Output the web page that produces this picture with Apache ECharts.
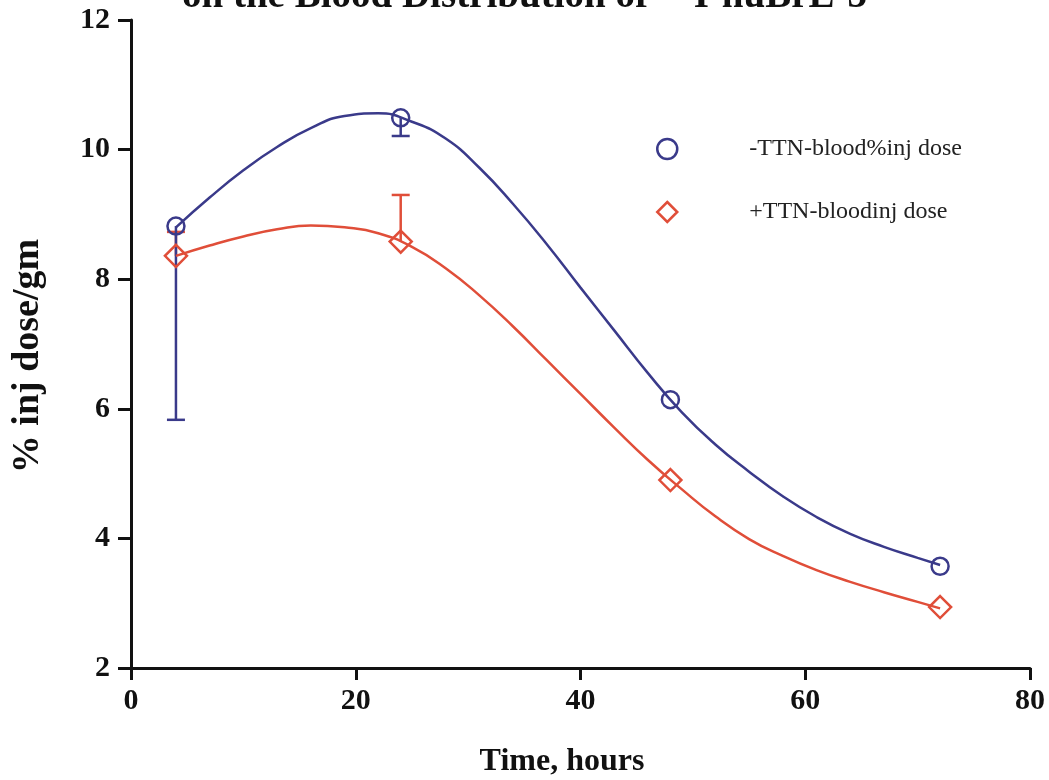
<!DOCTYPE html>
<html>
<head>
<meta charset="utf-8">
<script src="https://cdn.jsdelivr.net/npm/echarts@6/dist/echarts.min.js"></script>
<style>html,body{margin:0;padding:0;background:#fff}#c{width:1049px;height:780px}</style>
</head>
<body>
<div id="c"></div>
<script>
// Measured points (hours, % inj dose/gm)
const timeHours = [4, 24, 48, 72];
const minusTTN = [8.82, 10.49, 6.14, 3.57];
const plusTTN = [8.36, 8.58, 4.90, 2.94];
// One-sided error bars: [time, mean, bar end]
const minusTTNErr = [[4, 8.82, 5.83], [24, 10.49, 10.21]];
const plusTTNErr = [[4, 8.36, 8.73], [24, 8.58, 9.30]];
// Fitted curves
const minusTTNCurve = [[4,8.80],[7,9.26],[10,9.68],[13,10.04],[16,10.33],[19,10.52],[22,10.56],[25,10.43],[28,10.17],[31,9.72],[34,9.16],[37,8.54],[40,7.87],[43,7.21],[46,6.55],[49,5.95],[52,5.45],[55,5.03],[58,4.65],[61,4.33],[64,4.07],[67,3.87],[70,3.70],[72,3.59]];
const plusTTNCurve = [[4,8.36],[7,8.52],[10,8.66],[13,8.77],[16,8.83],[19,8.80],[22,8.71],[25,8.50],[28,8.17],[31,7.75],[34,7.27],[37,6.75],[40,6.23],[43,5.71],[46,5.21],[49,4.76],[52,4.34],[55,3.99],[58,3.73],[61,3.51],[64,3.33],[67,3.17],[70,3.02],[72,2.92]];
const xTicks = [0, 20, 40, 60, 80];
const yTicks = [2, 4, 6, 8, 10, 12];
const seriesNames = ['-TTN-blood%inj dose', '+TTN-bloodinj dose'];

const BLUE = '#3a3a8a';
const ORANGE = '#e04e39';
const FONT = '"Liberation Serif", "Times New Roman", serif';

function errSeries(data, color) {
  return {
    type: 'custom',
    silent: true,
    data: data,
    renderItem: function (params, api) {
      const x = api.value(0), m = api.value(1), e = api.value(2);
      const p1 = api.coord([x, m]);
      const p2 = api.coord([x, e]);
      const hw = 9;
      return {
        type: 'group',
        children: [
          {type: 'line', shape: {x1: p1[0], y1: p1[1], x2: p2[0], y2: p2[1]}, style: {stroke: color, lineWidth: 2.5}},
          {type: 'line', shape: {x1: p2[0] - hw, y1: p2[1], x2: p2[0] + hw, y2: p2[1]}, style: {stroke: color, lineWidth: 2.5}}
        ]
      };
    }
  };
}

const chart = echarts.init(document.getElementById('c'), null, {renderer: 'canvas'});
chart.setOption({
  animation: false,
  backgroundColor: '#fff',
  title: {
    text: 'on the Blood Distribution of {sup|125}I-huBrE-3',
    left: 'center',
    top: -28,
    textStyle: {
      fontFamily: FONT, fontWeight: 'bold', fontSize: 39, color: '#111',
      rich: {sup: {fontFamily: FONT, fontWeight: 'bold', fontSize: 24, color: '#111', verticalAlign: 'top'}}
    }
  },
  grid: {left: 131, right: 19, top: 20, bottom: 112, containLabel: false, outerBoundsMode: 'none'},
  legend: {
    orient: 'vertical',
    left: 651,
    top: 132,
    itemWidth: 20,
    itemHeight: 20,
    itemGap: 39,
    selectedMode: false,
    textStyle: {fontFamily: FONT, fontSize: 24, lineHeight: 24, color: '#222', padding: [0, 0, 0, 67]},
    data: [
      {name: seriesNames[0], icon: 'circle', itemStyle: {color: 'rgba(0,0,0,0)', borderColor: BLUE, borderWidth: 2.5, opacity: 1}},
      {name: seriesNames[1], icon: 'diamond', itemStyle: {color: 'rgba(0,0,0,0)', borderColor: ORANGE, borderWidth: 2.5, opacity: 1}}
    ]
  },
  xAxis: {
    type: 'value', min: xTicks[0], max: xTicks[xTicks.length - 1], interval: 20,
    name: 'Time, hours', nameLocation: 'middle', nameGap: 78,
    nameTextStyle: {fontFamily: FONT, fontWeight: 'bold', fontSize: 32, color: '#111', padding: [0, 37, 0, 0]},
    axisLine: {lineStyle: {color: '#111', width: 3}},
    axisTick: {show: true, length: 12, lineStyle: {color: '#111', width: 3}},
    axisLabel: {fontFamily: FONT, fontWeight: 'bold', fontSize: 30, color: '#111', margin: 18},
    splitLine: {show: false}
  },
  yAxis: {
    type: 'value', min: yTicks[0], max: yTicks[yTicks.length - 1], interval: 2,
    name: '% inj dose/gm', nameLocation: 'middle', nameGap: 84, nameRotate: 90,
    nameTextStyle: {fontFamily: FONT, fontWeight: 'bold', fontSize: 38, color: '#111', padding: [0, 24, 0, 0]},
    axisLine: {show: true, lineStyle: {color: '#111', width: 3}},
    axisTick: {show: true, length: 13, lineStyle: {color: '#111', width: 3}},
    axisLabel: {fontFamily: FONT, fontWeight: 'bold', fontSize: 30, color: '#111', margin: 21},
    splitLine: {show: false}
  },
  series: [
    errSeries(plusTTNErr, ORANGE),
    {type: 'line', name: 'plusCurve', data: plusTTNCurve, smooth: true, showSymbol: false, silent: true,
     lineStyle: {color: ORANGE, width: 2.5}},
    {type: 'line', name: 'minusCurve', data: minusTTNCurve, smooth: true, showSymbol: false, silent: true,
     lineStyle: {color: BLUE, width: 2.5}},
    errSeries(minusTTNErr, BLUE),
    {type: 'scatter', name: seriesNames[1], data: timeHours.map((t, i) => [t, plusTTN[i]]),
     symbol: 'diamond', symbolSize: [22, 22],
     itemStyle: {color: 'rgba(0,0,0,0)', borderColor: ORANGE, borderWidth: 2.5, opacity: 1}},
    {type: 'scatter', name: seriesNames[0], data: timeHours.map((t, i) => [t, minusTTN[i]]),
     symbol: 'circle', symbolSize: 17,
     itemStyle: {color: 'rgba(0,0,0,0)', borderColor: BLUE, borderWidth: 2.5, opacity: 1}}
  ]
});
</script>
</body>
</html>
